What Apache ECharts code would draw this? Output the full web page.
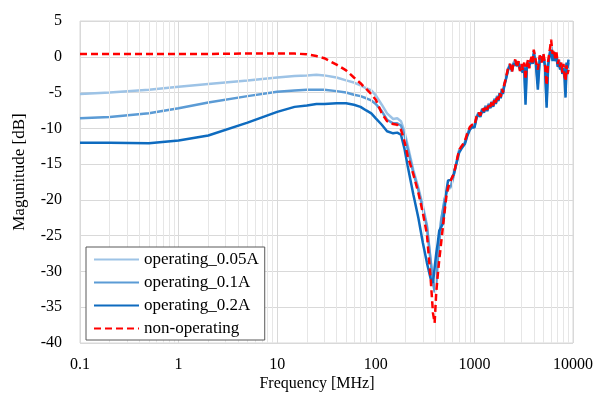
<!DOCTYPE html>
<html>
<head>
<meta charset="utf-8">
<script src="https://cdn.jsdelivr.net/npm/echarts@6/dist/echarts.min.js"></script>
<style>html,body{margin:0;padding:0;background:#fff;}#c{width:596px;height:393px;}</style>
</head>
<body>
<div id="c"></div>
<script>
// Frequencies in MHz
const freqLow  = [0.1,0.2,0.5,1,2,5,10,15,20,25,30,40,50,60,70,80,90,100];
const freqMid  = [115,130,150,165,180,195,210,240,270,300,330,360,380,395,410,425,440,460,480,500,520,540,580,620,660,700,750,800,850,900,950,1000];
const freqHigh = [1050,1100,1150,1200,1250,1300,1350,1400,1450,1500,1550,1600,1650,1700,1750,1800,1850,1900,1950,2000,
                  2100,2200,2300,2400,2500,2600,2700,2800,2900,3000,3100,3200,3300,3400,3500,3600,3700,3800,3900,4000,
                  4200,4400,4600,4800,5000,5200,5400,5600,5800,6000,6200,6400,6600,6800,7000,7200,7400,7600,7800,8000,8200,8400,8600,8800,9000];

// Magnitude [dB]
const op005 = [
  -5.2,-5.0,-4.6,-4.2,-3.8,-3.3,-2.9,-2.7,-2.6,-2.5,-2.6,-2.9,-3.3,-3.6,-4.0,-4.4,-4.7,-5.4,
  -6.7,-7.9,-8.7,-8.6,-9.0,-10.4,-12.3,-15.8,-18.3,-20.8,-23.5,-28.4,-31.0,-33.0,-32.0,-28.5,-26.0,-23.0,-21.5,-20.0,-19.0,-18.6,-18.2,-16.5,-14.8,-13.2,-12.5,-12.0,-10.8,-10.0,-9.7,-9.7,
  -8.4,-7.8,-8.2,-7.2,-7.6,-6.8,-7.4,-6.5,-7.0,-6.2,-6.8,-5.8,-6.4,-5.4,-6.0,-5.0,-5.6,-4.5,-5.0,-4.0,
  -2.8,-1.6,-1.0,-2.1,-0.8,-0.5,-1.4,-0.7,-1.9,-1.1,-1.9,-1.0,-4.5,-1.3,-0.5,-1.5,-0.6,-0.1,-0.8,0.8,
  -0.7,-3.0,0.0,-0.8,0.3,-1.1,-5.2,-0.7,0.6,1.8,0.0,0.8,-0.3,0.4,-1.1,-0.5,-1.5,-0.9,-2.2,-1.1,-2.7,-4.2,-1.1,-2.2,-1.5
];
const op01 = [
  -8.6,-8.4,-7.9,-7.2,-6.4,-5.5,-4.9,-4.7,-4.6,-4.6,-4.6,-4.8,-5.0,-5.3,-5.5,-5.8,-6.1,-6.6,
  -7.6,-8.8,-9.3,-9.3,-9.6,-10.9,-12.8,-16.2,-18.6,-21.2,-23.8,-28.6,-31.4,-32.8,-31.5,-28.2,-25.8,-22.8,-21.3,-19.8,-18.9,-18.4,-18.0,-16.3,-14.7,-13.1,-12.5,-12.0,-10.8,-10.0,-9.7,-9.8,
  -8.5,-7.9,-8.3,-7.3,-7.7,-6.9,-7.5,-6.6,-7.1,-6.3,-6.9,-5.9,-6.5,-5.5,-6.1,-5.1,-5.7,-4.6,-5.1,-4.1,
  -2.9,-1.7,-1.1,-2.0,-0.9,-0.6,-1.3,-0.8,-1.8,-1.2,-2.0,-1.2,-5.8,-1.4,-0.7,-1.4,-0.7,-0.2,-0.9,0.7,
  -0.8,-3.8,-0.2,-0.7,0.2,-1.2,-6.3,-0.9,0.4,1.4,-0.3,0.6,-0.4,0.2,-1.2,-0.6,-1.6,-1.0,-2.3,-1.3,-2.8,-5.0,-1.0,-2.0,-0.8
];
const op02 = [
  -12.0,-12.0,-12.1,-11.7,-11.0,-9.2,-7.7,-7.0,-6.8,-6.6,-6.6,-6.5,-6.5,-6.7,-7.0,-7.5,-7.9,-8.6,
  -9.5,-10.4,-10.7,-10.6,-10.9,-12.8,-15.2,-19.2,-22.5,-26.0,-28.8,-31.0,-31.6,-29.5,-27.5,-26.0,-24.3,-23.8,-23.3,-21.0,-18.8,-17.3,-17.2,-16.3,-14.8,-13.4,-12.7,-12.2,-11.0,-10.2,-9.8,-9.9,
  -8.6,-8.0,-8.4,-7.4,-7.8,-7.0,-7.6,-6.7,-7.2,-6.4,-7.0,-6.0,-6.6,-5.6,-6.2,-5.2,-5.8,-4.7,-5.2,-4.2,
  -3.0,-1.8,-1.2,-1.8,-1.0,-0.8,-1.2,-0.9,-1.6,-1.4,-2.2,-1.5,-6.7,-1.6,-0.9,-1.2,-0.8,-0.4,-1.0,0.4,
  -1.0,-4.6,-0.4,-0.6,0.0,-1.4,-7.1,-1.2,0.2,1.0,-0.6,0.4,-0.6,0.0,-1.4,-0.8,-1.8,-1.2,-2.4,-1.6,-3.0,-5.7,-0.8,-1.6,-0.4
];
const nonOp = [
  0.4,0.4,0.4,0.4,0.4,0.45,0.45,0.45,0.35,0.1,-0.2,-1.1,-1.9,-2.9,-3.7,-4.5,-5.2,-6.0,
  -7.9,-9.0,-9.4,-9.5,-10.2,-11.8,-13.8,-16.4,-19.0,-21.8,-24.8,-31.0,-35.8,-37.2,-33.0,-30.5,-28.4,-26.0,-23.7,-21.5,-19.5,-18.3,-17.2,-16.3,-14.6,-13.0,-12.4,-11.8,-10.6,-9.8,-9.5,-9.6,
  -8.4,-7.8,-8.2,-7.2,-7.6,-6.8,-7.4,-6.5,-7.0,-6.2,-6.8,-5.8,-6.4,-5.4,-6.0,-5.0,-5.6,-4.5,-5.0,-4.0,
  -2.8,-1.5,-1.0,-2.2,-0.8,-0.4,-1.5,-0.6,-2.0,-1.0,-1.8,-0.8,-3.2,-1.2,-0.4,-1.6,-0.6,0.0,-0.8,1.0,
  -0.6,-1.8,0.2,-0.8,0.5,-1.0,-4.0,-0.6,0.8,2.4,0.4,1.0,-0.2,0.6,-1.0,-0.4,-1.4,-0.8,-2.2,-1.0,-2.6,-3.4,-1.2,-2.4,-1.8
];
const seriesNames = ['operating_0.05A','operating_0.1A','operating_0.2A','non-operating'];
const xTickLabels = ['0.1','1','10','100','1000','10000'];

const freq = freqLow.concat(freqMid, freqHigh);
const pairs = v => freq.map((f, i) => [f, v[i]]);

// minor grid positions (2..9 of each decade)
const minorX = [];
[0.1, 1, 10, 100, 1000].forEach(d => { for (let k = 2; k <= 9; k++) minorX.push({ xAxis: +(d * k).toPrecision(3) }); });

const FONT = '"Liberation Serif", "Times New Roman", serif';
const chart = echarts.init(document.getElementById('c'), null, { renderer: 'canvas' });

const lineSeries = (name, data, color, width, dash, z) => ({
  name, type: 'line', data, showSymbol: false, symbol: 'none', z,
  lineStyle: { color, width, type: dash || 'solid' },
  itemStyle: { color },
  animation: false
});

chart.setOption({
  animation: false,
  backgroundColor: '#fff',
  grid: { left: 80, right: 20, top: 21, bottom: 50, show: true, borderColor: '#D9D9D9', borderWidth: 1 },
  xAxis: {
    type: 'log', logBase: 10, min: 0.1, max: 10000,
    axisLine: { show: false }, axisTick: { show: false },
    splitLine: { show: true, lineStyle: { color: '#D9D9D9', width: 1 } },
    axisLabel: {
      color: '#000', fontFamily: FONT, fontSize: 16, margin: 14,
      formatter: v => { const e = Math.round(Math.log10(v)) + 1; return xTickLabels[e] !== undefined ? xTickLabels[e] : ''; }
    }
  },
  yAxis: {
    type: 'value', min: -40, max: 5, interval: 5,
    axisLine: { show: false }, axisTick: { show: false },
    splitLine: { show: true, lineStyle: { color: '#D9D9D9', width: 1 } },
    axisLabel: { color: '#000', fontFamily: FONT, fontSize: 16, margin: 18 }
  },
  legend: {
    orient: 'vertical', left: 86, top: 247,
    data: seriesNames,
    backgroundColor: '#fff', borderColor: '#595959', borderWidth: 1,
    padding: [4, 6, 3, 7], itemGap: 6, itemWidth: 45, itemHeight: 12,
    itemStyle: { opacity: 0 },
    textStyle: { color: '#000', fontFamily: FONT, fontSize: 17, lineHeight: 17, padding: [0, 0, 0, 0] },
    z: 10
  },
  graphic: [
    { type: 'text', z: 5, x: 317, y: 384, style: { text: 'Frequency [MHz]', font: '16px ' + FONT, fill: '#000', textAlign: 'center', textVerticalAlign: 'middle' } },
    { type: 'text', z: 5, rotation: Math.PI / 2, x: 20, y: 172, style: { text: 'Magunitude [dB]', font: '17px ' + FONT, fill: '#000', textAlign: 'center', textVerticalAlign: 'middle' } }
  ],
  series: [
    {
      name: 'minorGrid', type: 'line', data: [], z: 1, silent: true,
      markLine: { silent: true, symbol: 'none', label: { show: false }, animation: false,
        lineStyle: { color: '#E6E6E6', width: 1, type: 'solid' }, data: minorX }
    },
    lineSeries(seriesNames[0], pairs(op005), '#9DC3E6', 2.5, null, 3),
    lineSeries(seriesNames[1], pairs(op01), '#5B9BD5', 2.5, null, 4),
    lineSeries(seriesNames[2], pairs(op02), '#0E6BBF', 2.5, null, 5),
    lineSeries(seriesNames[3], pairs(nonOp), '#FF0000', 2.5, [7, 4], 6)
  ]
});
</script>
</body>
</html>
